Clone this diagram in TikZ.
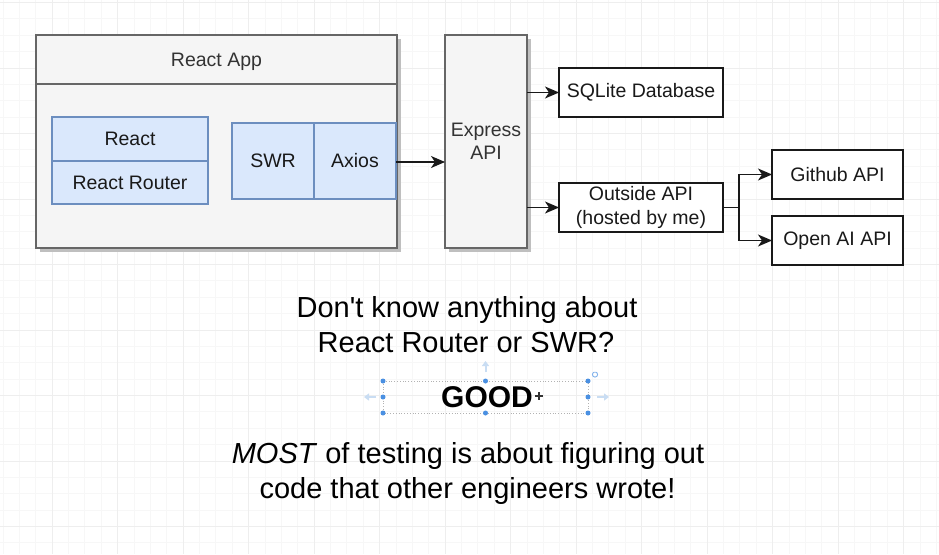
\documentclass[tikz,border=0pt]{standalone}
\usepackage{fontspec}
\setmainfont{Liberation Sans}
\usetikzlibrary{arrows.meta,shadows}
\definecolor{gminor}{HTML}{F7F7F7}
\definecolor{gmajor}{HTML}{EEEEEE}
\definecolor{grayfill}{HTML}{F5F5F5}
\definecolor{grayline}{HTML}{666666}
\definecolor{bluefill}{HTML}{DAE8FC}
\definecolor{blueline}{HTML}{6C8EBF}
\definecolor{txtgray}{HTML}{333333}
\definecolor{selblue}{HTML}{4A90E2}
\definecolor{selpale}{HTML}{C9DDF3}
\tikzset{
  box/.style={rectangle, inner sep=0pt, outer sep=0pt, anchor=north west, line width=1.3pt},
  graybox/.style={box, draw=grayline, fill=grayfill, text=txtgray,
     font=\fontsize{19.5}{23}\selectfont},
  shadowed/.style={drop shadow={shadow xshift=3.5pt, shadow yshift=-3.5pt, opacity=1, fill=black!25}},
  bluebox/.style={box, draw=blueline, fill=bluefill, text=black!90,
     font=\fontsize{19.5}{23}\selectfont},
  whitebox/.style={box, draw=black!90, fill=white, text=black!90,
     font=\fontsize{19.5}{24}\selectfont, align=center},
  conn/.style={line width=1.3pt, draw=black!90, -{Stealth[length=14pt,width=12pt,inset=4pt]}},
  bigtext/.style={anchor=base, inner sep=0pt, text=black, font=\fontsize{29}{35}\selectfont},
  seldot/.style={circle, fill=selblue, inner sep=0pt, minimum size=5pt},
  palearrow/.style={draw=selpale, line width=2pt, -{Triangle[length=5pt,width=7pt]}}
}
\begin{document}
\begin{tikzpicture}[x=1pt,y=-1pt]
\useasboundingbox (0,0) rectangle (939,554);
\fill[white] (0,0) rectangle (939,554);
% grid
\foreach \i in {0,...,57} \draw[gminor, line width=0.8pt] ({2.9+\i*16.375},0) -- ++(0,554);
\foreach \i in {0,...,33} \draw[gminor, line width=0.8pt] (0,{2.5+\i*16.375}) -- ++(939,0);
\foreach \i in {0,...,13} \draw[gmajor, line width=0.9pt] ({52+\i*65.5},0) -- ++(0,554);
\foreach \i in {0,...,8} \draw[gmajor, line width=0.9pt] (0,{2.5+\i*65.5}) -- ++(939,0);

% React App container
\node[graybox, shadowed, minimum width=361pt, minimum height=213pt] (app) at (36,35) {};
\node[graybox, minimum width=361pt, minimum height=49pt, text depth=-2pt] (apphead) at (36,35) {React App};

\node[bluebox, minimum width=156pt, minimum height=44pt] (react) at (52,117) {React};
\node[bluebox, minimum width=156pt, minimum height=43pt] (router) at (52,161) {React Router};
\node[bluebox, minimum width=82pt, minimum height=76pt] (swr) at (232,123) {SWR};
\node[bluebox, minimum width=82pt, minimum height=76pt] (axios) at (314,123) {Axios};

% Express
\node[graybox, shadowed, minimum width=82pt, minimum height=213pt, align=center] (express) at (445,35) {Express\\API};

% right side boxes
\node[whitebox, minimum width=164pt, minimum height=49pt] (sqlite) at (559,68) {SQLite Database};
\node[whitebox, minimum width=164pt, minimum height=49pt] (outside) at (559,183) {Outside API\\(hosted by me)};
\node[whitebox, minimum width=131pt, minimum height=49pt] (github) at (772,150) {Github API};
\node[whitebox, minimum width=131pt, minimum height=49pt] (openai) at (772,216) {Open AI API};

% connectors
\draw[conn] ([yshift=-1pt]axios.east) -- ([yshift=-1pt]axios.east -| express.west);
\draw[conn] (express.east |- sqlite.west) -- (sqlite.west);
\draw[conn] (express.east |- outside.west) -- (outside.west);
\draw[line width=1.3pt, draw=black!90] (outside.east) -- ++(16,0) coordinate (br);
\draw[conn] (br) |- (github.west);
\draw[conn] (br) |- (openai.west);

% text
\node[bigtext] (q1) at (467,317) {Don\textquotesingle t know anything about};
\node[bigtext] (q2) at (466,352) {React Router or SWR?};
\node[bigtext, font=\fontsize{30}{35}\selectfont\bfseries] (good) at (487,407) {GOOD};
\node[bigtext] (m1) at (468,463) {\textit{MOST} of testing is about figuring out};
\node[bigtext] (m2) at (467.5,498) {code that other engineers wrote!};

% selection handles (editor UI)
\draw[black!30, dotted, line width=0.8pt] (383,381) rectangle (588,413);
\foreach \p in {(383,381),(485.5,381),(588,381),(383,397),(588,397),(383,413),(485.5,413),(588,413)}
  \node[seldot] at \p {};
\draw[palearrow] (485.5,372) -- (485.5,361);
\draw[palearrow] (376,397) -- (364,397);
\draw[palearrow] (597,397) -- (609,397);
\draw[selblue!70, line width=0.9pt] (595,374.5) circle[radius=2.6pt];
\fill[white] (595,371) circle[radius=1.2pt];
% cursor
\draw[white, line width=3pt] (535,396) -- (543,396) (539,392) -- (539,400);
\draw[black!80, line width=1.2pt] (535,396) -- (543,396) (539,392) -- (539,400);
\end{tikzpicture}
\end{document}
